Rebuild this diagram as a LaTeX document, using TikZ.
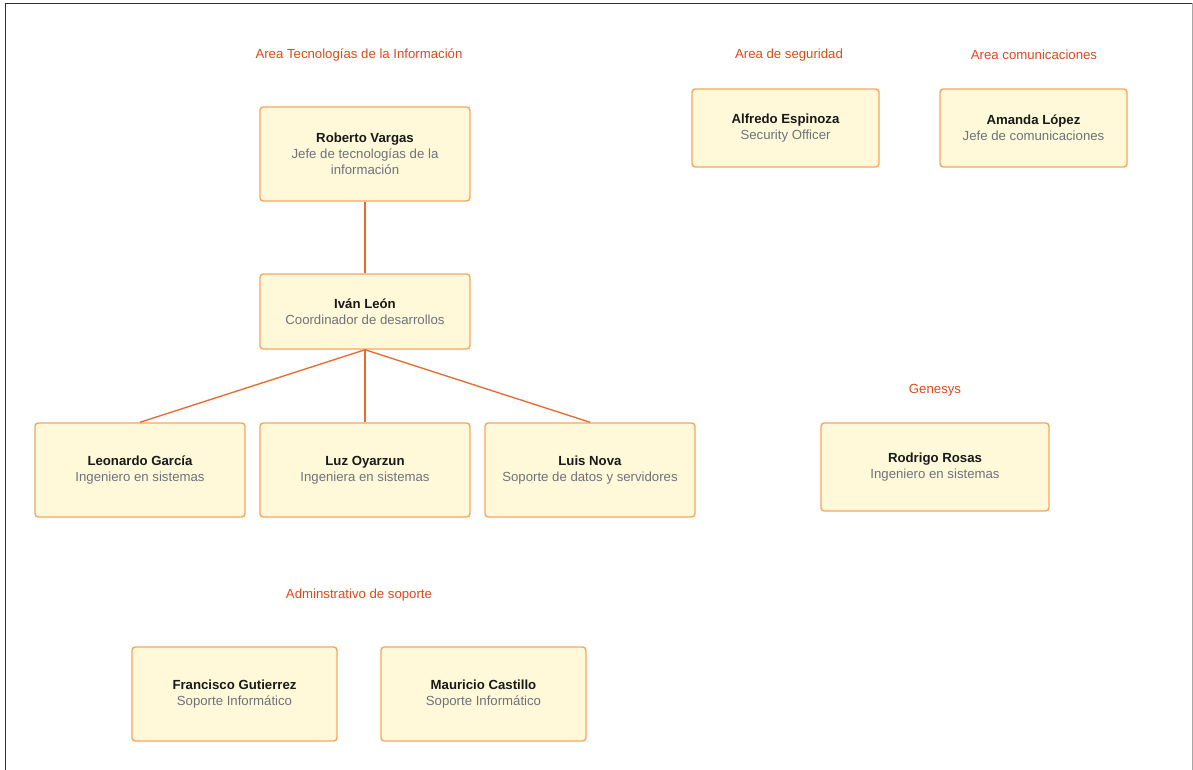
\documentclass[tikz,border=0pt]{standalone}
\usepackage{fontspec}
\setmainfont{Liberation Sans}
\usepackage{tikz}

\definecolor{borde}{HTML}{F5A75E}
\definecolor{relleno}{HTML}{FFF8D9}
\definecolor{linea}{HTML}{E86A2E}
\definecolor{titulo}{HTML}{DC4A1C}
\definecolor{subgris}{HTML}{6E737B}

\newcommand{\ficha}[2]{\textcolor{black!90}{\textbf{#1}}\\#2}

\begin{document}
\begin{tikzpicture}[x=0.75pt,y=-0.75pt,
  every node/.style={font=\fontsize{9.9}{12}\selectfont},
  caja/.style={draw=borde,fill=relleno,line width=1.1pt,rounded corners=2.5pt,
    align=center,inner sep=0pt,text=subgris},
  area/.style={text=titulo}]
  \useasboundingbox (0,0) rectangle (1193,770);
  \fill[white] (0,0) rectangle (1193,770);
  \draw[black!80,line width=0.9pt] (5.5,770) -- (5.5,3.5) -- (1192.5,3.5);
  \draw[black!35,line width=0.9pt] (1192.5,3.5) -- (1192.5,770);
  % areas
  \node[area] (ati) at (359,55) {Area Tecnologías de la Información};
  \node[area] (aseg) at (789,55) {Area de seguridad};
  \node[area] (acom) at (1034,55) {Area comunicaciones};
  \node[area] (agen) at (935,390) {Genesys};
  \node[area] (asop) at (359,595) {Adminstrativo de soporte};
  % personas
  \node[caja,minimum width=157.5pt,minimum height=70.5pt] (roberto) at (365,154) {\ficha{Roberto Vargas}{Jefe de tecnologías de la\\información}};
  \node[caja,minimum width=157.5pt,minimum height=56.25pt] (ivan) at (365,311.5) {\ficha{Iván León}{Coordinador de desarrollos}};
  \node[caja,minimum width=157.5pt,minimum height=70.5pt] (leonardo) at (140,470) {\ficha{Leonardo García}{Ingeniero en sistemas}};
  \node[caja,minimum width=157.5pt,minimum height=70.5pt] (luz) at (365,470) {\ficha{Luz Oyarzun}{Ingeniera en sistemas}};
  \node[caja,minimum width=157.5pt,minimum height=70.5pt] (luis) at (590,470) {\ficha{Luis Nova}{Soporte de datos y servidores}};
  \node[caja,minimum width=140.25pt,minimum height=58.5pt] (alfredo) at (785.5,128) {\ficha{Alfredo Espinoza}{Security Officer}};
  \node[caja,minimum width=140.25pt,minimum height=58.5pt] (amanda) at (1033.5,128) {\ficha{Amanda López}{Jefe de comunicaciones}};
  \node[caja,minimum width=171pt,minimum height=66pt] (rodrigo) at (935,467) {\ficha{Rodrigo Rosas}{Ingeniero en sistemas}};
  \node[caja,minimum width=153.75pt,minimum height=70.5pt] (francisco) at (234.5,694) {\ficha{Francisco Gutierrez}{Soporte Informático}};
  \node[caja,minimum width=153.75pt,minimum height=70.5pt] (mauricio) at (483.5,694) {\ficha{Mauricio Castillo}{Soporte Informático}};
  % lineas
  \draw[linea,line width=1pt] (roberto.south) -- (ivan.north);
  \draw[linea,line width=1pt] (ivan.south) -- (leonardo.north);
  \draw[linea,line width=1pt] (ivan.south) -- (luz.north);
  \draw[linea,line width=1pt] (ivan.south) -- (luis.north);
\end{tikzpicture}
\end{document}
